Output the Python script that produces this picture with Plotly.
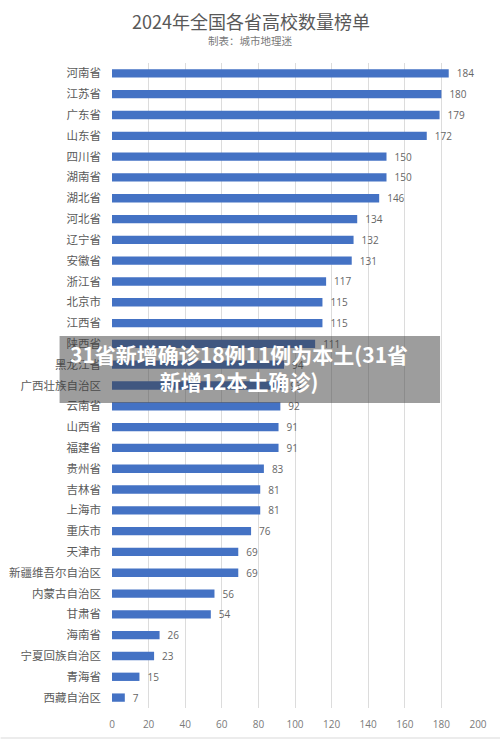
import plotly.graph_objects as go

provinces = ["河南省","江苏省","广东省","山东省","四川省","湖南省","湖北省","河北省","辽宁省","安徽省","浙江省","北京市","江西省","陕西省","黑龙江省","广西壮族自治区","云南省","山西省","福建省","贵州省","吉林省","上海市","重庆市","天津市","新疆维吾尔自治区","内蒙古自治区","甘肃省","海南省","宁夏回族自治区","青海省","西藏自治区"]
counts = [184,180,179,172,150,150,146,134,132,131,117,115,115,111,94,93,92,91,91,83,81,81,76,69,69,56,54,26,23,15,7]
x_ticks = list(range(0,201,20))

W,H=500,739
L,R,T,B=111.5,478,63,708
font="Noto Sans CJK SC"

fig=go.Figure(go.Bar(
    y=provinces,x=counts,orientation="h",
    marker=dict(color="#4472c4",line=dict(width=0)),width=0.4,
    texttemplate="\u2002%{x}",textposition="outside",cliponaxis=False,constraintext="none",
    textfont=dict(family="Open Sans",size=10,color="#666666"),
))
fig.update_layout(
    width=W,height=H,margin=dict(l=L,r=W-R,t=T,b=H-B,autoexpand=False),autosize=False,
    paper_bgcolor="white",plot_bgcolor="white",showlegend=False,
    font=dict(family=font),
    xaxis=dict(range=[0,200],tickvals=x_ticks,showgrid=True,gridcolor="#dcdcdc",gridwidth=1,automargin=False,
               zeroline=False,showline=False,ticks="",tickfont=dict(family="Open Sans",size=10,color="#7a7a7a"),ticklabelstandoff=9),
    yaxis=dict(categoryorder="array",categoryarray=provinces[::-1],showgrid=False,zeroline=False,automargin=False,
               showline=False,ticks="",tickfont=dict(size=11.5,color="#5a5a5a"),ticklabelstandoff=10),
    shapes=[
        dict(type="rect",xref="paper",yref="paper",x0=(59-L)/(R-L),x1=(440-L)/(R-L),
             y0=(B-403)/(B-T),y1=(B-336)/(B-T),fillcolor="rgba(60,60,60,0.5)",line=dict(width=0),layer="above"),
        dict(type="rect",xref="paper",yref="paper",x0=(0-L)/(R-L),x1=(500-L)/(R-L),
             y0=(B-739)/(B-T),y1=(B-737)/(B-T),fillcolor="#ececec",line=dict(width=0),layer="above"),
    ],
    annotations=[
        dict(text="2024年全国各省高校数量榜单",xref="paper",yref="paper",x=(250.5-L)/(R-L),y=(B-21)/(B-T),yanchor="middle",
             showarrow=False,font=dict(size=18,color="#595959")),
        dict(text="制表：城市地理迷",xref="paper",yref="paper",x=(250.5-L)/(R-L),y=(B-40)/(B-T),yanchor="middle",
             showarrow=False,font=dict(size=10.5,color="#7a7a7a")),
        dict(text="31省新增确诊18例11例为本土(31省<br>新增12本土确诊)",xref="paper",yref="paper",x=(239-L)/(R-L),y=(B-367)/(B-T),yanchor="middle",
             showarrow=False,align="center",font=dict(size=21,color="white",family=font,weight="bold")),
    ],
)
fig.write_html("out.html",post_script="document.body.style.margin='0';",config={"displayModeBar":False})
